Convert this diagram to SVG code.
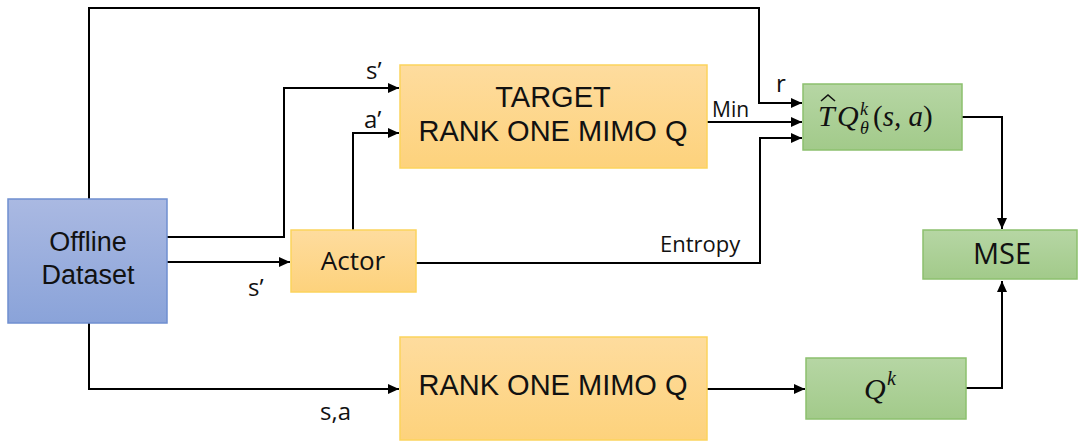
<svg xmlns="http://www.w3.org/2000/svg" width="1078" height="441" viewBox="0 0 1078 441">
<style>
.lbl{font-family:"Open Sans","Liberation Sans",sans-serif;fill:#111;}
.big{text-anchor:middle;}
.tight{font-family:"Liberation Sans","Open Sans",sans-serif;}
.edge{fill:none;stroke:#000;stroke-width:2;marker-end:url(#ah);}
.math{font-family:"Liberation Serif","DejaVu Serif",serif;font-style:italic;fill:#111;}
</style>
<defs>
<linearGradient id="gBlue" x1="0" y1="0" x2="0" y2="1"><stop offset="0" stop-color="#aab9e2"/><stop offset="1" stop-color="#8aa3d9"/></linearGradient>
<linearGradient id="gOr" x1="0" y1="0" x2="0" y2="1"><stop offset="0" stop-color="#fedc9e"/><stop offset="1" stop-color="#fdd27c"/></linearGradient>
<linearGradient id="gGr" x1="0" y1="0" x2="0" y2="1"><stop offset="0" stop-color="#b6d6a4"/><stop offset="1" stop-color="#a2ca8a"/></linearGradient>
<marker id="ah" markerUnits="userSpaceOnUse" markerWidth="12" markerHeight="10" refX="11" refY="5" orient="auto"><path d="M0,0 L11,5 L0,10 z" fill="#000"/></marker>
</defs>
<g id="connectors">
<polyline class="edge" points="89,199 89,8 759,8 759,103 802,103"/>
<polyline class="edge" points="167,237 284,237 284,88 399,88"/>
<polyline class="edge" points="167,262 290,262"/>
<polyline class="edge" points="353,230 353,133 399,133"/>
<polyline class="edge" points="707,122 802,122"/>
<polyline class="edge" points="416,263 760,263 760,138 802,138"/>
<polyline class="edge" points="962,117 1002,117 1002,229"/>
<polyline class="edge" points="89,323 89,389 399,389"/>
<polyline class="edge" points="707,389 805,389"/>
<polyline class="edge" points="966,388 1002,388 1002,281"/>
</g>
<g id="labels" class="lbl">
<text x="366" y="79" font-size="24">s’</text>
<text x="364" y="128" font-size="24">a’</text>
<text x="776" y="92" font-size="24">r</text>
<text x="712" y="117" font-size="21">Min</text>
<text x="660" y="252" font-size="22">Entropy</text>
<text x="248" y="296" font-size="24">s’</text>
<text x="320" y="420" font-size="24">s,a</text>
</g>
<g id="dataset">
<rect x="8" y="199" width="159" height="124" fill="url(#gBlue)" stroke="#6f8fd0" stroke-width="1.5"/>
<text class="lbl big tight" x="88" y="251" font-size="27">Offline</text>
<text class="lbl big tight" x="88" y="284" font-size="27">Dataset</text>
</g>
<g id="target">
<rect x="400" y="65" width="307" height="103" fill="url(#gOr)" stroke="#fcd35c" stroke-width="1.5"/>
<text class="lbl big tight" x="553" y="107" font-size="29">TARGET</text>
<text class="lbl big tight" x="553" y="141" font-size="29">RANK ONE MIMO Q</text>
</g>
<g id="actor">
<rect x="291" y="230" width="125" height="62" fill="url(#gOr)" stroke="#fcd35c" stroke-width="1.5"/>
<text class="lbl big" x="353" y="270" font-size="26">Actor</text>
</g>
<g id="rankq">
<rect x="400" y="337" width="307" height="103" fill="url(#gOr)" stroke="#fcd35c" stroke-width="1.5"/>
<text class="lbl big tight" x="553" y="395" font-size="29">RANK ONE MIMO Q</text>
</g>
<g id="tq">
<rect x="803" y="84" width="159" height="66" fill="url(#gGr)" stroke="#8cc06e" stroke-width="1.5"/>
<path d="M821,101 L828,95 L835,101" fill="none" stroke="#111" stroke-width="1.6"/>
<text class="math" x="818" y="126" font-size="30">T</text>
<text class="math" x="837" y="126" font-size="30">Q</text>
<text class="math" x="860" y="115" font-size="18">k</text>
<text class="math" x="860" y="134" font-size="18">θ</text>
<text class="math" x="873" y="126" font-size="29"><tspan font-style="normal">(</tspan>s, a<tspan font-style="normal">)</tspan></text>
</g>
<g id="mse">
<rect x="923" y="230" width="154" height="49" fill="url(#gGr)" stroke="#8cc06e" stroke-width="1.5"/>
<text class="lbl big" x="1002" y="264" font-size="29">MSE</text>
</g>
<g id="qk">
<rect x="806" y="358" width="160" height="61" fill="url(#gGr)" stroke="#8cc06e" stroke-width="1.5"/>
<text class="math" x="864" y="399" font-size="30">Q</text>
<text class="math" x="887" y="385" font-size="20">k</text>
</g>
</svg>
